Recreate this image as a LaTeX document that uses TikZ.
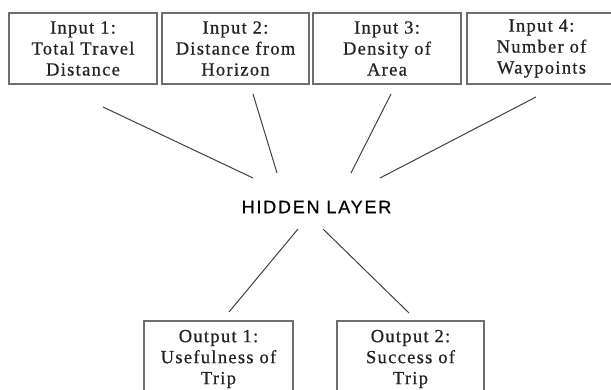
\documentclass[tikz,border=0pt]{standalone}
\usepackage{fontspec}
\setmainfont{Liberation Serif}[LetterSpace=7, FakeBold=0.6]
\newfontfamily\hidfont{Liberation Sans}[LetterSpace=10, FakeBold=0.8]
\definecolor{boxline}{HTML}{6E6E6E}
\definecolor{txt}{HTML}{222222}
\definecolor{conn}{HTML}{404040}
\begin{document}
\begin{tikzpicture}[x=1pt,y=-1pt,
  inbox/.style={draw=boxline, line width=1.1pt, minimum height=71pt, inner sep=0pt,
    align=center, text=txt, font=\fontsize{18.5}{21}\selectfont},
  conline/.style={draw=conn, line width=1pt}]
\useasboundingbox (0,0) rectangle (611,390);
\begin{scope}
\clip (0,0) rectangle (611,390);
\node[inbox, minimum width=148pt] (in1) at (83,48.5) {Input 1:\\Total Travel\\Distance};
\node[inbox, minimum width=147pt] (in2) at (235.5,48.5) {Input 2:\\Distance from\\Horizon};
\node[inbox, minimum width=148pt] (in3) at (387,48.5) {Input 3:\\Density of\\Area};
\node[inbox, minimum width=149pt] (in4) at (541.5,48.5) {Input 4:\\Number of\\Waypoints};
\node[text=black, font=\hidfont\fontsize{18}{20}\selectfont, inner sep=1pt] (hid) at (316.5,207) {HIDDEN LAYER};
\node[inbox, minimum width=149pt, minimum height=76pt] (out1) at (218.5,359) {Output 1:\\Usefulness of\\Trip};
\node[inbox, minimum width=147pt, minimum height=76pt] (out2) at (410.5,359) {Output 2:\\Success of\\Trip};
\end{scope}
% connector end points
\coordinate (a1) at (103,107); \coordinate (b1) at (253,178);
\coordinate (a2) at (253,94);  \coordinate (b2) at (277,173);
\coordinate (a3) at (391,94);  \coordinate (b3) at (351,173);
\coordinate (a4) at (536,97);  \coordinate (b4) at (380,178);
\coordinate (a5) at (298,229); \coordinate (b5) at (229,312);
\coordinate (a6) at (323,229); \coordinate (b6) at (409,313);
\draw[conline] (a1) -- (b1);
\draw[conline] (a2) -- (b2);
\draw[conline] (a3) -- (b3);
\draw[conline] (a4) -- (b4);
\draw[conline] (a5) -- (b5);
\draw[conline] (a6) -- (b6);
\end{tikzpicture}
\end{document}
